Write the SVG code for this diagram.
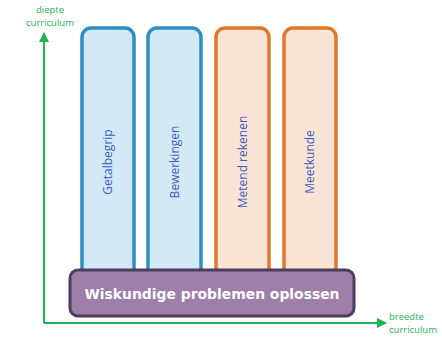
<svg xmlns="http://www.w3.org/2000/svg" width="442" height="337" viewBox="0 0 442 337">
  <style>
    .axis { stroke: #1fb356; stroke-width: 2; fill: none; }
    .axis-label { fill: #1fb356; font-family: "Open Sans", "DejaVu Sans", sans-serif; font-size: 9.5px; }
    .col-blue { fill: #d4e9f6; stroke: #2b8fc2; stroke-width: 3.5; }
    .col-orange { fill: #f8e3d5; stroke: #e0782c; stroke-width: 3.5; }
    .col-text { fill: #3a5cbf; font-family: "Open Sans", "Liberation Sans", sans-serif; font-size: 12px; text-anchor: middle; }
    .base { fill: #9d7fa9; stroke: #4e3d5e; stroke-width: 3; }
    .base-text { fill: #ffffff; font-family: "DejaVu Sans", "Liberation Sans", sans-serif; font-weight: bold; font-size: 14px; text-anchor: middle; }
  </style>
  <defs>
    <marker id="arrow" viewBox="0 0 10 10" refX="9" refY="5" markerWidth="5" markerHeight="5" orient="auto">
      <path d="M0,0 L10,5 L0,10 Z" fill="#1fb356"/>
    </marker>
  </defs>

  <!-- axes -->
  <g id="connectors">
    <line class="axis" x1="44" y1="323" x2="44" y2="33" marker-end="url(#arrow)"/>
    <line class="axis" x1="44" y1="323" x2="386" y2="323" marker-end="url(#arrow)"/>
  </g>
  <g id="label-depth">
    <text class="axis-label" x="50" y="13" text-anchor="middle">diepte</text>
    <text class="axis-label" x="50" y="26" text-anchor="middle">curriculum</text>
  </g>
  <g id="label-breadth">
    <text class="axis-label" x="389" y="320">breedte</text>
    <text class="axis-label" x="389" y="333">curriculum</text>
  </g>

  <!-- columns -->
  <g id="col-getalbegrip">
    <rect class="col-blue" x="82" y="28" width="52" height="262" rx="9"/>
    <text class="col-text" transform="translate(112,162) rotate(-90)">Getalbegrip</text>
  </g>
  <g id="col-bewerkingen">
    <rect class="col-blue" x="148" y="28" width="53" height="262" rx="9"/>
    <text class="col-text" transform="translate(179,162) rotate(-90)">Bewerkingen</text>
  </g>
  <g id="col-metend-rekenen">
    <rect class="col-orange" x="216" y="28" width="53" height="262" rx="9"/>
    <text class="col-text" transform="translate(247,162) rotate(-90)">Metend rekenen</text>
  </g>
  <g id="col-meetkunde">
    <rect class="col-orange" x="284" y="28" width="52" height="262" rx="9"/>
    <text class="col-text" transform="translate(314,162) rotate(-90)">Meetkunde</text>
  </g>

  <!-- foundation bar -->
  <g id="base-problemen">
    <rect class="base" x="70" y="270" width="284" height="46" rx="8"/>
    <text class="base-text" x="212" y="299" textLength="255" lengthAdjust="spacingAndGlyphs">Wiskundige problemen oplossen</text>
  </g>
</svg>
